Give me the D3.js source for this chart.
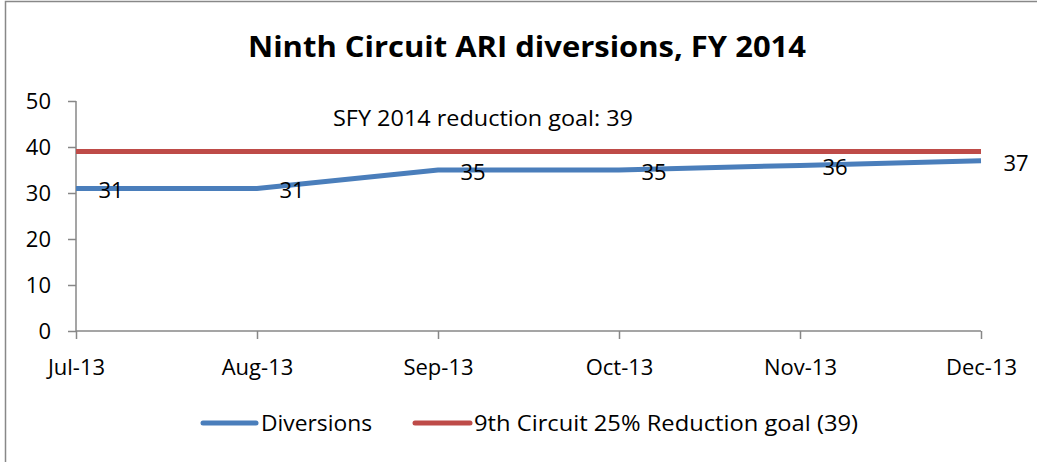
<!DOCTYPE html>
<html><head><meta charset="utf-8">
<script src="https://cdn.jsdelivr.net/npm/d3@7"></script>
<style>body{margin:0;background:#fff}svg{display:block}text{font-family:"Open Sans",sans-serif}</style>
</head><body><svg id="c" width="1037" height="462"></svg>
<script>
const categories = ["Jul-13","Aug-13","Sep-13","Oct-13","Nov-13","Dec-13"];
const diversions = [31,31,35,35,36,37];
const goal = [39,39,39,39,39,39];
const yTicks = [0,10,20,30,40,50];
const title = "Ninth Circuit ARI diversions, FY 2014";
const annotation = "SFY 2014 reduction goal: 39";
const seriesNames = ["Diversions","9th Circuit 25% Reduction goal (39)"];
const colors = ["#4A7EBB","#BE4B48"];
const FONT = "'Open Sans', sans-serif";

const svg = d3.select("#c");
svg.append("path").attr("d","M5.5,462V1.5H1037").attr("fill","none").attr("stroke","#888").attr("stroke-width",1.5);

const x = d3.scalePoint().domain(categories).range([76,981]);
const y = d3.scaleLinear().domain([0,50]).range([331,101]);

svg.append("text").attr("x",527).attr("y",57).attr("text-anchor","middle")
  .attr("font-size",28).attr("font-weight","bold")
  .attr("textLength",558).attr("lengthAdjust","spacingAndGlyphs").text(title);

const ya = svg.append("g").attr("transform","translate(76,0)")
  .call(d3.axisLeft(y).tickValues(yTicks).tickSize(8).tickPadding(17));
const xa = svg.append("g").attr("transform","translate(0,331)")
  .call(d3.axisBottom(x).tickSize(8).tickPadding(20));
[ya,xa].forEach(a=>{
  a.select(".domain").attr("stroke","#878787").attr("stroke-width",1.5);
  a.selectAll(".tick line").attr("stroke","#878787").attr("stroke-width",1.5);
  a.selectAll("text").attr("font-size",22).attr("fill","#000").style("font-family",FONT);
});
ya.select(".domain").attr("d","M0,101V331");
xa.select(".domain").attr("d","M76,0H981");

const line = d3.line().x((d,i)=>x(categories[i])).y(d=>y(d));
svg.append("path").datum(goal).attr("d",line).attr("fill","none").attr("stroke",colors[1]).attr("stroke-width",5);
svg.append("path").datum(diversions).attr("d",line).attr("fill","none").attr("stroke",colors[0]).attr("stroke-width",5);

svg.selectAll(".dl").data(diversions).enter().append("text")
  .attr("x",(d,i)=>x(categories[i])+35).attr("y",d=>y(d)+10)
  .attr("text-anchor","middle").attr("font-size",22).text(d=>d);

svg.append("text").attr("x",483).attr("y",126).attr("text-anchor","middle").attr("font-size",21)
  .attr("textLength",300).attr("lengthAdjust","spacingAndGlyphs").text(annotation);

const leg = [{x1:203,x2:256,tx:261,w:111},{x1:415,x2:470,tx:474,w:384}];
leg.forEach((l,i)=>{
  svg.append("line").attr("x1",l.x1).attr("x2",l.x2).attr("y1",423).attr("y2",423)
    .attr("stroke",colors[i]).attr("stroke-width",5).attr("stroke-linecap","round");
  svg.append("text").attr("x",l.tx).attr("y",431).attr("font-size",21)
    .attr("textLength",l.w).attr("lengthAdjust","spacingAndGlyphs").text(seriesNames[i]);
});
</script></body></html>
